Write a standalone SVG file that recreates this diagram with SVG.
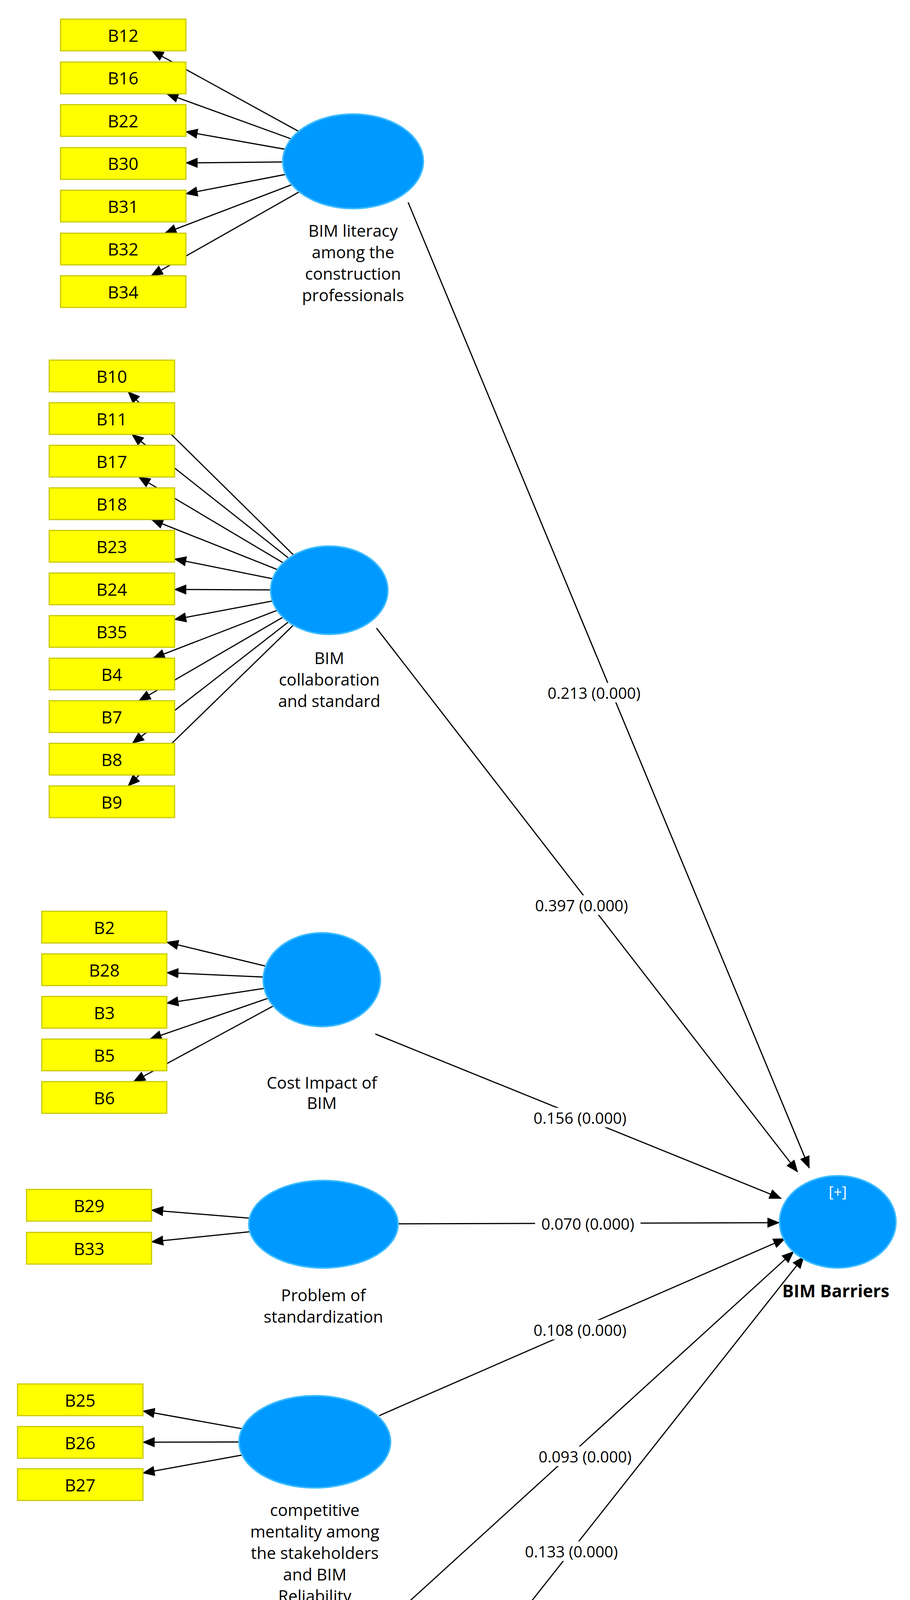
<svg xmlns="http://www.w3.org/2000/svg" width="2330" height="5028" viewBox="0 0 2330 5028">
<style>
.box{fill:#ffff00;stroke:#c8c800;stroke-width:3}
.lv{fill:#0099ff;stroke:#3cbcff;stroke-width:4}
.bt{font-family:"Open Sans",sans-serif;font-size:44px;fill:#000;text-anchor:middle;dominant-baseline:central}
.lt{font-family:"Open Sans",sans-serif;font-size:42px;fill:#000;text-anchor:middle;dominant-baseline:central}
.pl{font-family:"Open Sans",sans-serif;font-size:40px;fill:#000;text-anchor:middle;dominant-baseline:central}
.c line{stroke:#000;stroke-width:3;marker-end:url(#ah)}
.lb{fill:#fff}
</style>
<defs>
<marker id="ah" markerUnits="userSpaceOnUse" markerWidth="32" markerHeight="26" refX="30" refY="13" orient="auto"><path d="M0,0 L32,13 L0,26 Z" fill="#000"/></marker>
</defs>
<rect width="2330" height="5028" fill="#fff"/>
<g id="connectors" class="c">
<line x1="904" y1="413" x2="389" y2="130"/><line x1="904" y1="413" x2="427" y2="240"/><line x1="904" y1="413" x2="476" y2="337"/><line x1="904" y1="413" x2="476" y2="417"/><line x1="904" y1="413" x2="476" y2="496"/><line x1="904" y1="413" x2="422" y2="597"/><line x1="904" y1="413" x2="387" y2="706"/>
<line x1="843" y1="1511" x2="328" y2="1003"/><line x1="843" y1="1511" x2="338" y2="1112"/><line x1="843" y1="1511" x2="355" y2="1221"/><line x1="843" y1="1511" x2="388" y2="1330"/><line x1="843" y1="1511" x2="447" y2="1431"/><line x1="843" y1="1511" x2="447" y2="1509"/><line x1="843" y1="1511" x2="447" y2="1586"/><line x1="843" y1="1511" x2="392" y2="1685"/><line x1="843" y1="1511" x2="356" y2="1794"/><line x1="843" y1="1511" x2="339" y2="1903"/><line x1="843" y1="1511" x2="328" y2="2012"/>
<line x1="824" y1="2508" x2="427" y2="2412"/><line x1="824" y1="2508" x2="427" y2="2490"/><line x1="824" y1="2508" x2="427" y2="2568"/><line x1="824" y1="2508" x2="384" y2="2660"/><line x1="824" y1="2508" x2="342" y2="2769"/>
<line x1="828" y1="3134" x2="388" y2="3098"/><line x1="828" y1="3134" x2="388" y2="3179"/>
<line x1="806" y1="3691" x2="366" y2="3612"/><line x1="806" y1="3691" x2="366" y2="3692"/><line x1="806" y1="3691" x2="366" y2="3771"/>
<line x1="769" y1="4336" x2="375" y2="4259"/><line x1="769" y1="4336" x2="375" y2="4336"/><line x1="769" y1="4336" x2="375" y2="4413"/>
<line x1="793" y1="4814" x2="369" y2="4689"/><line x1="793" y1="4814" x2="392" y2="4774"/><line x1="793" y1="4814" x2="392" y2="4853"/><line x1="793" y1="4814" x2="372" y2="4935"/>
<line x1="1045" y1="518" x2="2072" y2="2990"/>
<line x1="964" y1="1608" x2="2042" y2="3000"/>
<line x1="961" y1="2647" x2="2000" y2="3068"/>
<line x1="1019" y1="3133" x2="1995" y2="3130"/>
<line x1="971" y1="3624" x2="2010" y2="3171"/>
<line x1="874" y1="4258" x2="2032" y2="3204"/>
<line x1="874" y1="4715" x2="2058" y2="3217"/>
<g id="path-labels">
<rect class="lb" x="1386" y="1748" width="270" height="50"/><text class="pl" x="1521" y="1773">0.213 (0.000)</text>
<rect class="lb" x="1354" y="2292" width="270" height="50"/><text class="pl" x="1489" y="2317">0.397 (0.000)</text>
<rect class="lb" x="1350" y="2836" width="270" height="50"/><text class="pl" x="1485" y="2861">0.156 (0.000)</text>
<rect class="lb" x="1370" y="3107" width="270" height="50"/><text class="pl" x="1505" y="3132">0.070 (0.000)</text>
<rect class="lb" x="1350" y="3379" width="270" height="50"/><text class="pl" x="1485" y="3404">0.108 (0.000)</text>
<rect class="lb" x="1363" y="3703" width="270" height="50"/><text class="pl" x="1498" y="3728">0.093 (0.000)</text>
<rect class="lb" x="1328" y="3946" width="270" height="50"/><text class="pl" x="1463" y="3971">0.133 (0.000)</text>
</g>
</g>
<g id="lit"><ellipse class="lv" cx="904" cy="413" rx="180" ry="121"/><text class="lt" x="904" y="589">BIM literacy</text><text class="lt" x="904" y="644">among the</text><text class="lt" x="904" y="699">construction</text><text class="lt" x="904" y="754">professionals</text></g>
<g id="collab"><ellipse class="lv" cx="843" cy="1511" rx="150" ry="113"/><text class="lt" x="843" y="1683">BIM</text><text class="lt" x="843" y="1738">collaboration</text><text class="lt" x="843" y="1793">and standard</text></g>
<g id="cost"><ellipse class="lv" cx="824" cy="2508" rx="150" ry="120"/><text class="lt" x="824" y="2770">Cost Impact of</text><text class="lt" x="824" y="2822">BIM</text></g>
<g id="prob"><ellipse class="lv" cx="828" cy="3134" rx="191" ry="112"/><text class="lt" x="828" y="3314">Problem of</text><text class="lt" x="828" y="3369">standardization</text></g>
<g id="comp"><ellipse class="lv" cx="806" cy="3691" rx="194" ry="118"/><text class="lt" x="806" y="3864">competitive</text><text class="lt" x="806" y="3919">mentality among</text><text class="lt" x="806" y="3974">the stakeholders</text><text class="lt" x="806" y="4029">and BIM</text><text class="lt" x="806" y="4084">Reliability</text></g>
<g id="contract"><ellipse class="lv" cx="769" cy="4336" rx="150" ry="123"/><text class="lt" x="769" y="4508">Contract</text><text class="lt" x="769" y="4563">condition</text></g>
<g id="culture"><ellipse class="lv" cx="793" cy="4814" rx="152" ry="121"/><text class="lt" x="793" y="4983">Culture</text></g>
<g id="barriers"><ellipse class="lv" cx="2145" cy="3128" rx="149" ry="118"/><text class="lt" x="2145" y="3050" fill="#fff" style="fill:#fff;font-size:38px">[+]</text><text class="lt" x="2140" y="3304" style="font-weight:bold;font-size:44px">BIM Barriers</text></g>
<g id="ind1">
<g id="B12"><rect class="box" x="155" y="49" width="321" height="81"/><text class="bt" x="315" y="90">B12</text></g>
<g id="B16"><rect class="box" x="155" y="159" width="321" height="81"/><text class="bt" x="315" y="199">B16</text></g>
<g id="B22"><rect class="box" x="155" y="268" width="321" height="81"/><text class="bt" x="315" y="309">B22</text></g>
<g id="B30"><rect class="box" x="155" y="378" width="321" height="81"/><text class="bt" x="315" y="418">B30</text></g>
<g id="B31"><rect class="box" x="155" y="487" width="321" height="81"/><text class="bt" x="315" y="528">B31</text></g>
<g id="B32"><rect class="box" x="155" y="597" width="321" height="81"/><text class="bt" x="315" y="637">B32</text></g>
<g id="B34"><rect class="box" x="155" y="706" width="321" height="81"/><text class="bt" x="315" y="747">B34</text></g>
</g>
<g id="ind2">
<g id="B10"><rect class="box" x="126" y="922" width="321" height="81"/><text class="bt" x="286" y="963">B10</text></g>
<g id="B11"><rect class="box" x="126" y="1031" width="321" height="81"/><text class="bt" x="286" y="1072">B11</text></g>
<g id="B17"><rect class="box" x="126" y="1140" width="321" height="81"/><text class="bt" x="286" y="1181">B17</text></g>
<g id="B18"><rect class="box" x="126" y="1249" width="321" height="81"/><text class="bt" x="286" y="1290">B18</text></g>
<g id="B23"><rect class="box" x="126" y="1358" width="321" height="81"/><text class="bt" x="286" y="1399">B23</text></g>
<g id="B24"><rect class="box" x="126" y="1467" width="321" height="81"/><text class="bt" x="286" y="1508">B24</text></g>
<g id="B35"><rect class="box" x="126" y="1576" width="321" height="81"/><text class="bt" x="286" y="1617">B35</text></g>
<g id="B4"><rect class="box" x="126" y="1685" width="321" height="81"/><text class="bt" x="286" y="1726">B4</text></g>
<g id="B7"><rect class="box" x="126" y="1794" width="321" height="81"/><text class="bt" x="286" y="1835">B7</text></g>
<g id="B8"><rect class="box" x="126" y="1903" width="321" height="81"/><text class="bt" x="286" y="1944">B8</text></g>
<g id="B9"><rect class="box" x="126" y="2012" width="321" height="81"/><text class="bt" x="286" y="2053">B9</text></g>
</g>
<g id="ind3">
<g id="B2"><rect class="box" x="107" y="2333" width="320" height="81"/><text class="bt" x="267" y="2374">B2</text></g>
<g id="B28"><rect class="box" x="107" y="2442" width="320" height="81"/><text class="bt" x="267" y="2483">B28</text></g>
<g id="B3"><rect class="box" x="107" y="2551" width="320" height="81"/><text class="bt" x="267" y="2592">B3</text></g>
<g id="B5"><rect class="box" x="107" y="2660" width="320" height="81"/><text class="bt" x="267" y="2701">B5</text></g>
<g id="B6"><rect class="box" x="107" y="2769" width="320" height="81"/><text class="bt" x="267" y="2810">B6</text></g>
</g>
<g id="ind4">
<g id="B29"><rect class="box" x="68" y="3045" width="320" height="81"/><text class="bt" x="228" y="3086">B29</text></g>
<g id="B33"><rect class="box" x="68" y="3155" width="320" height="81"/><text class="bt" x="228" y="3196">B33</text></g>
</g>
<g id="ind5">
<g id="B25"><rect class="box" x="45" y="3543" width="321" height="81"/><text class="bt" x="205" y="3584">B25</text></g>
<g id="B26"><rect class="box" x="45" y="3652" width="321" height="81"/><text class="bt" x="205" y="3693">B26</text></g>
<g id="B27"><rect class="box" x="45" y="3760" width="321" height="81"/><text class="bt" x="205" y="3801">B27</text></g>
</g>
<g id="ind6">
<g id="B13"><rect class="box" x="55" y="4187" width="320" height="81"/><text class="bt" x="215" y="4228">B13</text></g>
<g id="B14"><rect class="box" x="55" y="4296" width="320" height="81"/><text class="bt" x="215" y="4337">B14</text></g>
<g id="B15"><rect class="box" x="55" y="4404" width="320" height="81"/><text class="bt" x="215" y="4445">B15</text></g>
</g>
<g id="ind7">
<g id="B19"><rect class="box" x="71" y="4608" width="321" height="81"/><text class="bt" x="231" y="4649">B19</text></g>
<g id="B20"><rect class="box" x="71" y="4718" width="321" height="81"/><text class="bt" x="231" y="4759">B20</text></g>
<g id="B21"><rect class="box" x="71" y="4828" width="321" height="81"/><text class="bt" x="231" y="4869">B21</text></g>
<g id="B1"><rect class="box" x="71" y="4935" width="321" height="81"/><text class="bt" x="231" y="4976">B1</text></g>
</g>
</svg>
